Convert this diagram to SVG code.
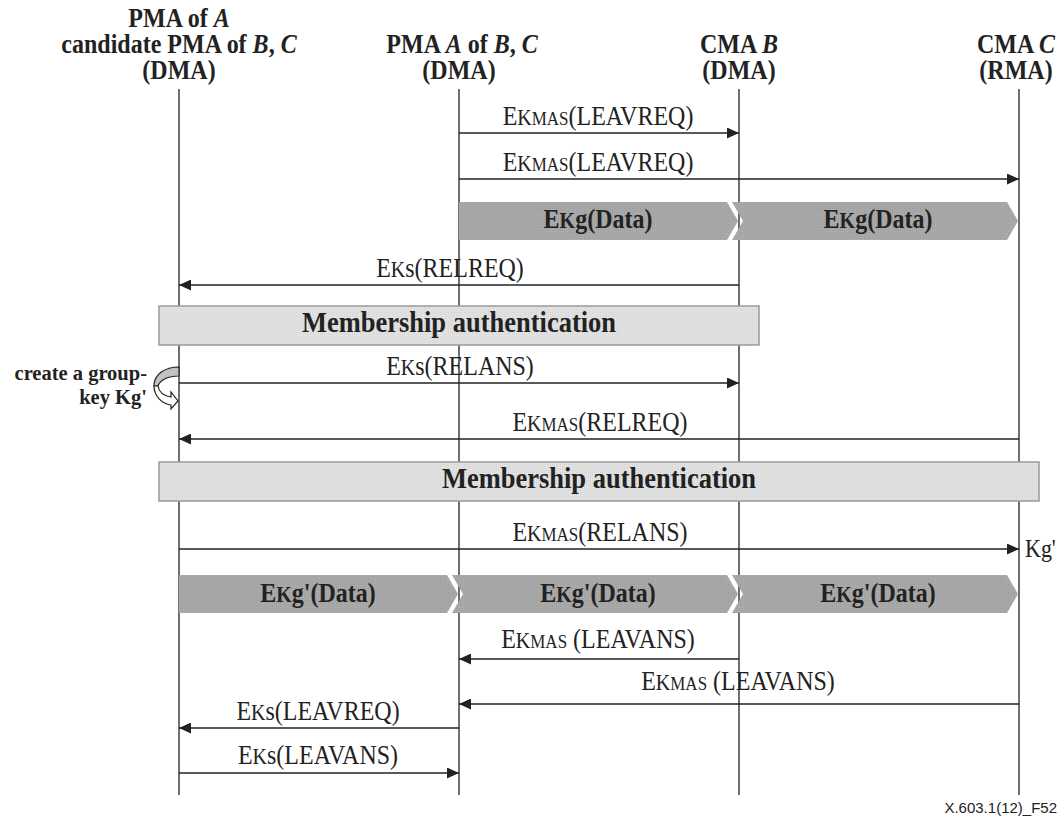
<svg xmlns="http://www.w3.org/2000/svg" width="1064" height="820" viewBox="0 0 1064 820">
<style>
.hd{font-family:"Liberation Serif",serif;font-weight:bold;font-size:24px;fill:#222;text-anchor:middle}
.lb{font-family:"Liberation Serif",serif;font-size:24px;fill:#222;text-anchor:middle}
.dl{font-family:"Liberation Serif",serif;font-weight:bold;font-size:24px;fill:#222;text-anchor:middle}
.ma{font-family:"Liberation Serif",serif;font-weight:bold;font-size:26.5px;fill:#222;text-anchor:middle}
.cr{font-family:"Liberation Serif",serif;font-weight:bold;font-size:20.5px;fill:#222;text-anchor:end}
.ft{font-family:"Liberation Sans",Arial,sans-serif;font-size:15px;fill:#222;text-anchor:end}
.it{font-style:italic}
.ll{stroke:#222;stroke-width:1.3;fill:none}
.msg{stroke:#222;stroke-width:1.3;fill:none;marker-end:url(#ah)}
.blk{fill:url(#dk)}
.box{fill:url(#lt);stroke:#9a9a9a;stroke-width:1.5}
.k{font-size:20px}
.m{font-size:17px}
</style>
<defs>
<marker id="ah" markerUnits="userSpaceOnUse" markerWidth="12" markerHeight="11" refX="12" refY="5.5" orient="auto">
<path d="M0,0 L12,5.5 L0,11 z" fill="#222"/>
</marker>
<pattern id="dk" width="2" height="2" patternUnits="userSpaceOnUse">
<rect width="2" height="2" fill="#aaaaaa"/>
<rect width="1" height="1" fill="#9c9c9c"/>
</pattern>
<pattern id="lt" width="2" height="2" patternUnits="userSpaceOnUse">
<rect width="2" height="2" fill="#e2e2e2"/>
<rect width="1" height="1" fill="#d4d4d4"/>
</pattern>
</defs>
<rect width="1064" height="820" fill="#fff"/>

<g id="lifeline-pma-a">
<text class="hd" transform="translate(179,27) scale(1,1.1)">PMA of <tspan class="it">A</tspan></text>
<text class="hd" transform="translate(179,53) scale(1,1.1)">candidate PMA of <tspan class="it">B</tspan>, <tspan class="it">C</tspan></text>
<text class="hd" transform="translate(179,79) scale(1,1.1)">(DMA)</text>
<line class="ll" x1="179" y1="89" x2="179" y2="795"/>
</g>
<g id="lifeline-pma-bc">
<text class="hd" transform="translate(462,53) scale(1,1.1)">PMA <tspan class="it">A</tspan> of <tspan class="it">B</tspan>, <tspan class="it">C</tspan></text>
<text class="hd" transform="translate(459,79) scale(1,1.1)">(DMA)</text>
<line class="ll" x1="459" y1="89" x2="459" y2="795"/>
</g>
<g id="lifeline-cma-b">
<text class="hd" transform="translate(739,53) scale(1,1.1)">CMA <tspan class="it">B</tspan></text>
<text class="hd" transform="translate(739,79) scale(1,1.1)">(DMA)</text>
<line class="ll" x1="739" y1="89" x2="739" y2="795"/>
</g>
<g id="lifeline-cma-c">
<text class="hd" transform="translate(1016,53) scale(1,1.1)">CMA <tspan class="it">C</tspan></text>
<text class="hd" transform="translate(1016,79) scale(1,1.1)">(RMA)</text>
<line class="ll" x1="1019" y1="89" x2="1019" y2="795"/>
</g>

<g id="data-row1">
<polygon class="blk" points="459,202 727,202 738,221 727,240 459,240"/>
<polygon class="blk" points="732,202 1007,202 1018,221 1007,240 732,240 743,221"/>
<text class="dl" transform="translate(598,228) scale(1,1.12)">E<tspan class="k">K</tspan>g(Data)</text>
<text class="dl" transform="translate(878,228) scale(1,1.12)">E<tspan class="k">K</tspan>g(Data)</text>
</g>

<g id="auth1">
<rect class="box" x="159" y="306" width="600" height="39"/>
<text class="ma" transform="translate(459,332) scale(1,1.12)">Membership authentication</text>
</g>

<g id="create-key">
<path d="M179,367 C165,367 154,374 154,386 L158,386 C160,380 168,376 179,376 Z" fill="#c2c2c2" stroke="#222" stroke-width="1.2"/>
<path d="M154,386 C154,396 162,404 171,405 L171,409 L178,401 L171,392 L171,397 C164,396 159,392 158,386 Z" fill="#fff" stroke="#222" stroke-width="1.2"/>
<text class="cr" x="147" y="380">create a group-</text>
<text class="cr" x="147" y="403.5">key Kg'</text>
</g>

<g id="auth2">
<rect class="box" x="159" y="462" width="880" height="39"/>
<text class="ma" transform="translate(599,488) scale(1,1.12)">Membership authentication</text>
</g>

<g id="data-row2">
<polygon class="blk" points="179,575 447,575 458,594 447,613 179,613"/>
<polygon class="blk" points="452,575 727,575 738,594 727,613 452,613 463,594"/>
<polygon class="blk" points="732,575 1007,575 1018,594 1007,613 732,613 743,594"/>
<text class="dl" transform="translate(318,602) scale(1,1.12)">E<tspan class="k">K</tspan>g'(Data)</text>
<text class="dl" transform="translate(598,602) scale(1,1.12)">E<tspan class="k">K</tspan>g'(Data)</text>
<text class="dl" transform="translate(878,602) scale(1,1.12)">E<tspan class="k">K</tspan>g'(Data)</text>
</g>

<g id="connectors">
<line class="msg" x1="459" y1="133" x2="739" y2="133"/>
<text class="lb" transform="translate(598,125) scale(1,1.12)">E<tspan class="k">K</tspan><tspan class="m">MAS</tspan>(LEAVREQ)</text>
<line class="msg" x1="459" y1="179" x2="1019" y2="179"/>
<text class="lb" transform="translate(598,171) scale(1,1.12)">E<tspan class="k">K</tspan><tspan class="m">MAS</tspan>(LEAVREQ)</text>
<line class="msg" x1="739" y1="285" x2="179" y2="285"/>
<text class="lb" transform="translate(450,277) scale(1,1.12)">E<tspan class="k">K</tspan>s(RELREQ)</text>
<line class="msg" x1="179" y1="383" x2="739" y2="383"/>
<text class="lb" transform="translate(460,375) scale(1,1.12)">E<tspan class="k">K</tspan>s(RELANS)</text>
<line class="msg" x1="1019" y1="439" x2="179" y2="439"/>
<text class="lb" transform="translate(600,431) scale(1,1.12)">E<tspan class="k">K</tspan><tspan class="m">MAS</tspan>(RELREQ)</text>
<line class="msg" x1="179" y1="549" x2="1019" y2="549"/>
<text class="lb" transform="translate(600,541) scale(1,1.12)">E<tspan class="k">K</tspan><tspan class="m">MAS</tspan>(RELANS)</text>
<text class="lb" style="text-anchor:start;font-size:22px" transform="translate(1025,557) scale(1,1.12)">Kg'</text>
<line class="msg" x1="739" y1="659" x2="459" y2="659"/>
<text class="lb" transform="translate(598,648) scale(1,1.12)">E<tspan class="k">K</tspan><tspan class="m">MAS</tspan> (LEAVANS)</text>
<line class="msg" x1="1019" y1="704" x2="459" y2="704"/>
<text class="lb" transform="translate(738,690) scale(1,1.12)">E<tspan class="k">K</tspan><tspan class="m">MAS</tspan> (LEAVANS)</text>
<line class="msg" x1="459" y1="728" x2="179" y2="728"/>
<text class="lb" transform="translate(318,720) scale(1,1.12)">E<tspan class="k">K</tspan>s(LEAVREQ)</text>
<line class="msg" x1="179" y1="773" x2="459" y2="773"/>
<text class="lb" transform="translate(318,764) scale(1,1.12)">E<tspan class="k">K</tspan>s(LEAVANS)</text>
</g>

<text class="ft" x="1057" y="813">X.603.1(12)_F52</text>
</svg>
